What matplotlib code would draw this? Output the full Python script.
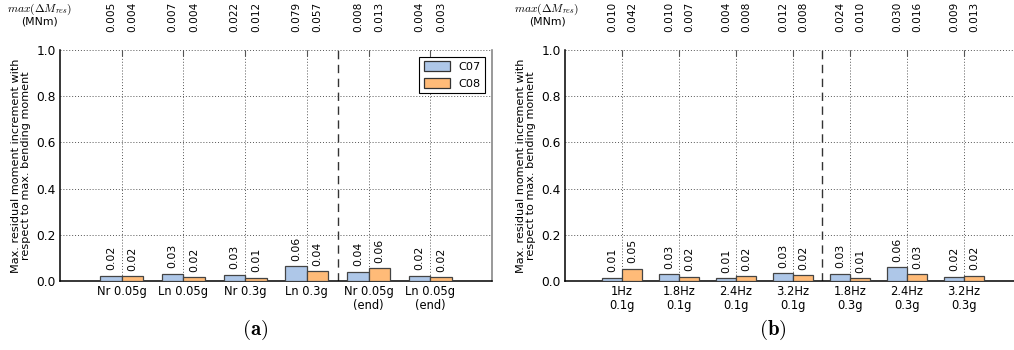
import numpy as np
import matplotlib
matplotlib.use("Agg")
import matplotlib.pyplot as plt
from matplotlib.patches import Patch

plt.rcParams['font.family'] = ['DejaVu Sans']
plt.rcParams['mathtext.fontset'] = 'cm'

# Panel (a): load cases
labels_a = ['Nr 0.05g', 'Ln 0.05g', 'Nr 0.3g', 'Ln 0.3g', 'Nr 0.05g\n(end)', 'Ln 0.05g\n(end)']
c07_a = [0.023, 0.032, 0.027, 0.064, 0.040, 0.022]
c08_a = [0.020, 0.017, 0.013, 0.043, 0.056, 0.017]
mres_c07_a = [0.005, 0.007, 0.022, 0.079, 0.008, 0.004]
mres_c08_a = [0.004, 0.004, 0.012, 0.057, 0.013, 0.003]

# Panel (b): sine sweeps
labels_b = ['1Hz\n0.1g', '1.8Hz\n0.1g', '2.4Hz\n0.1g', '3.2Hz\n0.1g', '1.8Hz\n0.3g', '2.4Hz\n0.3g', '3.2Hz\n0.3g']
c07_b = [0.013, 0.029, 0.011, 0.033, 0.032, 0.059, 0.018]
c08_b = [0.052, 0.018, 0.021, 0.024, 0.012, 0.029, 0.022]
mres_c07_b = [0.010, 0.010, 0.004, 0.012, 0.024, 0.030, 0.009]
mres_c08_b = [0.042, 0.007, 0.008, 0.008, 0.010, 0.016, 0.013]

series = ['C07', 'C08']
colors = ['#aec7e8', '#ffbb78']
width = 0.35
fs = 7.8
W, H = 1014, 350


def draw_panel(ax, labels, c07, c08, m07, m08, split, legend=False):
    x = np.arange(len(labels))
    ax.bar(x - width / 2, c07, width, color=colors[0], edgecolor='#444444', linewidth=0.9, zorder=3)
    ax.bar(x + width / 2, c08, width, color=colors[1], edgecolor='#444444', linewidth=0.9, zorder=3)

    # value labels on the bars
    for xi, v in zip(x - width / 2, c07):
        ax.text(xi, v + 0.024, '%.2f' % v, rotation=90, ha='center', va='bottom', fontsize=fs)
    for xi, v in zip(x + width / 2, c08):
        ax.text(xi, v + 0.024, '%.2f' % v, rotation=90, ha='center', va='bottom', fontsize=fs)

    # absolute residual moments above the axes
    for xi, v in zip(x - width / 2, m07):
        ax.text(xi, 1.08, '%.3f' % v, rotation=90, ha='center', va='bottom', fontsize=fs - 0.2, clip_on=False)
    for xi, v in zip(x + width / 2, m08):
        ax.text(xi, 1.08, '%.3f' % v, rotation=90, ha='center', va='bottom', fontsize=fs - 0.2, clip_on=False)

    ax.axvline(split, color='#333333', linestyle=(0, (6, 4)), linewidth=1.0, zorder=2)

    ax.set_xlim(-1, len(labels))
    ax.set_ylim(0, 1)
    ax.set_xticks(x)
    ax.set_xticklabels(labels, fontsize=fs + 0.5, linespacing=1.05)
    ax.set_yticks(np.arange(0, 1.01, 0.2))
    ax.set_yticklabels(['%.1f' % t for t in np.arange(0, 1.01, 0.2)], fontsize=fs + 1.0)
    ax.set_ylabel('Max. residual moment increment with\nrespect to max. bending moment',
                  fontsize=fs + 0.3, labelpad=4, linespacing=1.0)
    ax.grid(True, linestyle=(0, (1, 2)), color='#555555', linewidth=0.7, zorder=0)
    ax.tick_params(axis='x', direction='in', top=True, bottom=True, length=4, pad=3, color='#555555')
    ax.tick_params(axis='y', direction='in', left=True, right=False, length=0, pad=3)
    ax.spines['top'].set_visible(False)
    ax.spines['right'].set_color('#888888')
    ax.spines['right'].set_linewidth(1.2)
    ax.spines['left'].set_linewidth(1.1)
    ax.spines['bottom'].set_linewidth(1.1)

    if legend:
        handles = [Patch(facecolor=c, edgecolor='#333333', linewidth=0.9) for c in colors]
        leg = ax.legend(handles, series, loc='upper right', fontsize=fs + 0.3, fancybox=False,
                        handlelength=2.3, handleheight=1.0, borderaxespad=0.6, framealpha=1)
        leg.get_frame().set_edgecolor('black')
        leg.get_frame().set_linewidth(0.8)


fig = plt.figure(figsize=(W / 100, H / 100), dpi=100)
ax_a = fig.add_axes([60 / W, 69 / H, 432 / W, 231 / H])
ax_b = fig.add_axes([565 / W, 69 / H, 456 / W, 231 / H])

draw_panel(ax_a, labels_a, c07_a, c08_a, mres_c07_a, mres_c08_a, 3.5, legend=True)
draw_panel(ax_b, labels_b, c07_b, c08_b, mres_c07_b, mres_c08_b, 3.5)

# unit label in the top-left corner of each panel
for xc in [40, 547]:
    fig.text(xc / W, 1 - 9 / H, r'$max(\Delta M_{res})$', ha='center', va='center', fontsize=fs + 0.5)
    fig.text(xc / W, 1 - 22 / H, '(MNm)', ha='center', va='center', fontsize=fs)

fig.text(255 / W, 20 / H, r'$\mathbf{(a)}$', ha='center', va='center', fontsize=15)
fig.text(773 / W, 20 / H, r'$\mathbf{(b)}$', ha='center', va='center', fontsize=15)

fig.savefig('out.png', dpi=100)
